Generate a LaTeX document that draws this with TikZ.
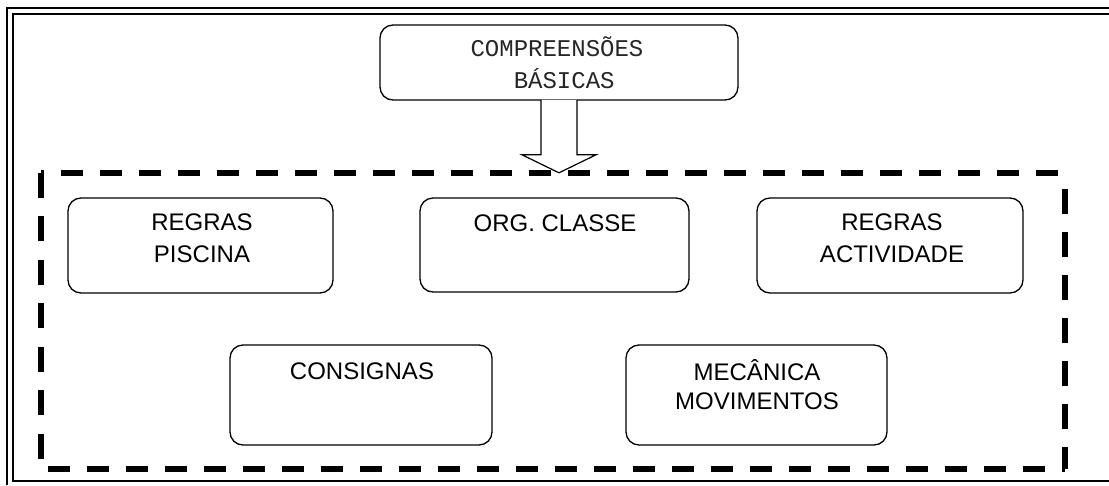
\documentclass[tikz,border=0pt]{standalone}
\usepackage{fontspec}
\setmainfont{Liberation Sans}
\newfontfamily\monofont{Liberation Mono}
\usetikzlibrary{calc}
\begin{document}
\begin{tikzpicture}[x=1pt,y=-1pt,
  box/.style={draw, rounded corners=13pt, line width=1.3pt, inner sep=0pt},
  stext/.style={font=\fontsize{24}{32}\selectfont, align=center, inner sep=0pt},
  mtext/.style={font=\monofont\fontsize{24}{32}\selectfont, align=center, inner sep=0pt, text=black!85},
  dline/.style={line width=6pt},
  frameline/.style={line width=2pt},
  blockarrow/.style={draw, fill=white, line width=1.2pt, line join=miter}]
\fill[white] (0,0) rectangle (1109,485);
\useasboundingbox (0,0) rectangle (1109,485);
% outer frame (double line)
\draw[frameline] (7,485) -- (7,8) -- (1109,8);
\draw[frameline] (1109,14) -- (13,14) -- (13,481) -- (1109,481);
% top box
\node[box, minimum width=358pt, minimum height=75pt] (cb) at (559,62.5) {};
\node[mtext] (cbt) at (557,65) {COMPREENS\smash{Õ}ES\\\hphantom{B}B\smash{Á}SICAS};
% group region
\node[inner sep=0pt, minimum width=1024pt, minimum height=296pt] (grp) at (553,321) {};
% block arrow
\coordinate (atip) at (cb.south |- grp.north);
\draw[blockarrow] ($(atip)+(-18,-73)$) -- ($(atip)+(-18,-18)$) -- ($(atip)+(-37,-18)$) -- (atip)
  -- ($(atip)+(37,-18)$) -- ($(atip)+(18,-18)$) -- ($(atip)+(18,-73)$);
% dashed sides
\draw[dline, dash pattern=on 22pt off 17pt, dash phase=32pt] (grp.north east) -- (grp.north west);
\draw[dline, dash pattern=on 22pt off 17pt, dash phase=32pt] (grp.south west) -- (grp.south east);
\draw[dline, dash pattern=on 25pt off 18.5pt] (grp.north west) -- (grp.south west);
\draw[dline, dash pattern=on 25pt off 18pt, dash phase=3pt] (grp.south east) -- (grp.north east);
% inner boxes
\node[box, minimum width=265pt, minimum height=95pt] (rp) at (200.5,245.5) {};
\node[stext] (rpt) at (202,238) {REGRAS\\PISCINA};
\node[box, minimum width=269pt, minimum height=94pt] (oc) at (554.5,245) {};
\node[stext] (oct) at (555,223) {ORG. CLASSE};
\node[box, minimum width=266pt, minimum height=95pt] (ra) at (890,245.5) {};
\node[stext] (rat) at (892,238.5) {REGRAS\\ACTIVIDADE};
\node[box, minimum width=262pt, minimum height=100pt] (co) at (361,395) {};
\node[stext] (cot) at (362,371) {CONSIGNAS};
\node[box, minimum width=261pt, minimum height=100pt] (mm) at (756.5,395) {};
\node[stext, font=\fontsize{24}{29}\selectfont] (mmt) at (757,386.5) {MEC\smash{Â}NICA\\MOVIMENTOS};
\end{tikzpicture}
\end{document}
